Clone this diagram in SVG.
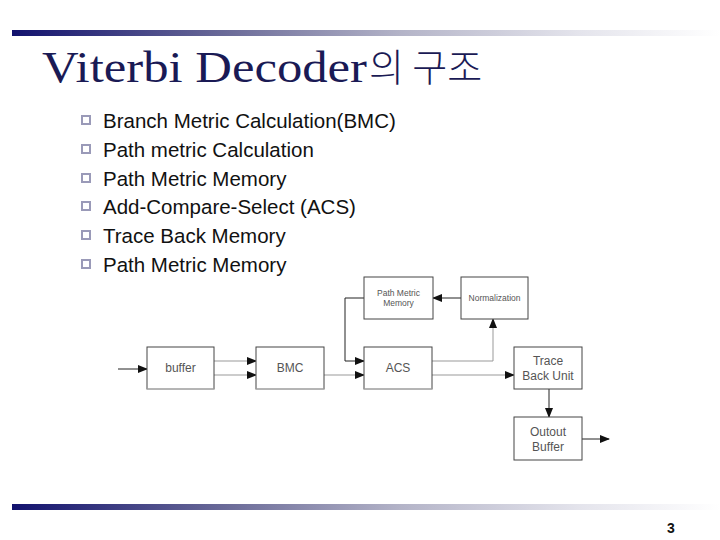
<svg xmlns="http://www.w3.org/2000/svg" width="720" height="540" viewBox="0 0 720 540">
<defs>
<linearGradient id="bar" x1="0" y1="0" x2="1" y2="0">
<stop offset="0" stop-color="#12126e"/>
<stop offset="0.3" stop-color="#6a6a98"/>
<stop offset="0.55" stop-color="#b4b4c8"/>
<stop offset="0.8" stop-color="#e4e4ec"/>
<stop offset="1" stop-color="#ffffff"/>
</linearGradient>
<marker id="ah" markerUnits="userSpaceOnUse" markerWidth="10" markerHeight="8" refX="9" refY="4" orient="auto">
<path d="M0,0 L10,4 L0,8 z" fill="#111"/>
</marker>
<style>
.title{font-family:"Liberation Serif",serif;font-size:45px;fill:#1a1a55}
.titlek{font-family:"Noto Sans CJK KR",sans-serif;font-size:38px;font-weight:300;fill:#1a1a55}
.bul{font-family:"Liberation Sans",Arial,sans-serif;font-size:20.5px;fill:#111}
.sq{fill:#fff;stroke:#9a9ab8;stroke-width:2}
.box{fill:#fff;stroke:#444;stroke-width:1}
.bot{stroke:#c8c8c8;stroke-width:1}
.lbl{font-family:"Liberation Sans",Arial,sans-serif;font-size:12px;fill:#555;text-anchor:middle}
.sm{font-family:"Liberation Sans",Arial,sans-serif;font-size:8.5px;fill:#555;text-anchor:middle}
.dk{fill:none;stroke:#222;stroke-width:1}
.gr{fill:none;stroke:#999;stroke-width:1}
.pg{font-family:"Liberation Sans",Arial,sans-serif;font-size:14px;font-weight:bold;fill:#111}
</style>
</defs>
<rect width="720" height="540" fill="#fff"/>
<rect x="12" y="30" width="708" height="6" fill="url(#bar)"/>
<rect x="12" y="504" width="708" height="6" fill="url(#bar)"/>
<text class="title" x="42" y="82" textLength="325" lengthAdjust="spacingAndGlyphs">Viterbi Decoder</text>
<text class="titlek" x="369" y="81">의 구조</text>
<g id="bullets">
<rect class="sq" x="82" y="116" width="8" height="8"/>
<text class="bul" x="103" y="128">Branch Metric Calculation(BMC)</text>
<rect class="sq" x="82" y="145" width="8" height="8"/>
<text class="bul" x="103" y="157">Path metric Calculation</text>
<rect class="sq" x="82" y="174" width="8" height="8"/>
<text class="bul" x="103" y="186">Path Metric Memory</text>
<rect class="sq" x="82" y="202" width="8" height="8"/>
<text class="bul" x="103" y="214">Add-Compare-Select (ACS)</text>
<rect class="sq" x="82" y="231" width="8" height="8"/>
<text class="bul" x="103" y="243">Trace Back Memory</text>
<rect class="sq" x="82" y="260" width="8" height="8"/>
<text class="bul" x="103" y="272">Path Metric Memory</text>
</g>
<g id="connectors">
<line class="dk" x1="118" y1="369" x2="147" y2="369" marker-end="url(#ah)"/>
<line class="gr" x1="214" y1="361" x2="256" y2="361" marker-end="url(#ah)"/>
<line class="gr" x1="214" y1="375" x2="256" y2="375" marker-end="url(#ah)"/>
<line class="gr" x1="324" y1="375" x2="364" y2="375" marker-end="url(#ah)"/>
<path class="dk" d="M364,298 H345 V361 H364" marker-end="url(#ah)"/>
<path class="gr" d="M432,361 H493 V319" marker-end="url(#ah)"/>
<line class="gr" x1="432" y1="375" x2="514" y2="375" marker-end="url(#ah)"/>
<line class="dk" x1="461" y1="298" x2="433" y2="298" marker-end="url(#ah)"/>
<line class="dk" x1="549" y1="389" x2="549" y2="417" marker-end="url(#ah)"/>
<line class="dk" x1="582" y1="439" x2="609" y2="439" marker-end="url(#ah)"/>
</g>
<g id="buffer">
<rect class="box" x="147" y="347" width="67" height="42"/>
<line class="bot" x1="147" y1="389" x2="214" y2="389"/>
<text class="lbl" x="180.5" y="372">buffer</text>
</g>
<g id="bmc">
<rect class="box" x="256" y="347" width="68" height="42"/>
<line class="bot" x1="256" y1="389" x2="324" y2="389"/>
<text class="lbl" x="290" y="372">BMC</text>
</g>
<g id="acs">
<rect class="box" x="364" y="347" width="68" height="42"/>
<line class="bot" x1="364" y1="389" x2="432" y2="389"/>
<text class="lbl" x="398" y="372">ACS</text>
</g>
<g id="trace">
<rect class="box" x="514" y="347" width="68" height="42"/>
<text class="lbl" x="548" y="365">Trace</text>
<text class="lbl" x="548" y="380">Back Unit</text>
</g>
<g id="pmm">
<rect class="box" x="364" y="277" width="69" height="42"/>
<text class="sm" x="398.5" y="296">Path Metric</text>
<text class="sm" x="398.5" y="306">Memory</text>
</g>
<g id="norm">
<rect class="box" x="461" y="277" width="67" height="42"/>
<text class="sm" x="494.5" y="301">Normalization</text>
</g>
<g id="output">
<rect class="box" x="514" y="417" width="68" height="43"/>
<text class="lbl" x="548" y="436">Outout</text>
<text class="lbl" x="548" y="451">Buffer</text>
</g>
<text class="pg" x="667" y="533">3</text>
</svg>
